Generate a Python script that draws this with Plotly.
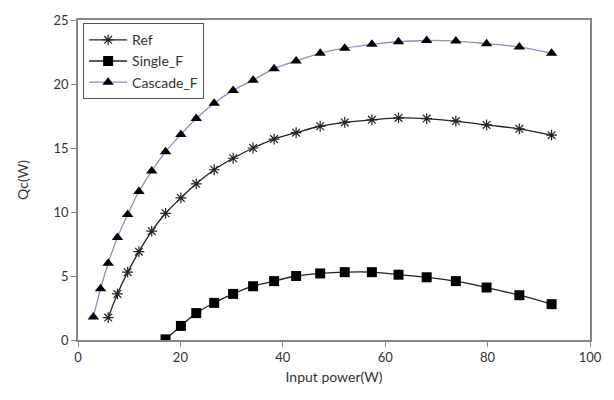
import plotly.graph_objects as go

input_power = [3.0, 4.4, 5.9, 7.7, 9.7, 11.9, 14.4, 17.1, 20.1, 23.1, 26.6, 30.3,
               34.2, 38.3, 42.6, 47.3, 52.1, 57.4, 62.6, 68.1, 73.8, 79.8, 86.2, 92.5]

ref_x = input_power[2:]
ref_y = [1.75, 3.6, 5.3, 6.9, 8.5, 9.9, 11.1, 12.2, 13.3, 14.2, 15.0, 15.7,
         16.2, 16.7, 17.0, 17.2, 17.35, 17.3, 17.1, 16.8, 16.5, 16.0]

single_x = input_power[7:]
single_y = [0.05, 1.1, 2.1, 2.9, 3.6, 4.2, 4.6, 5.0, 5.2, 5.3, 5.3, 5.1,
            4.9, 4.6, 4.1, 3.5, 2.8]

cascade_x = input_power
cascade_y = [1.8, 4.0, 6.0, 8.0, 9.8, 11.6, 13.2, 14.7, 16.05, 17.3, 18.5, 19.5,
             20.3, 21.2, 21.8, 22.4, 22.8, 23.1, 23.3, 23.4, 23.35, 23.15, 22.9, 22.4]

x_ticks = [0, 20, 40, 60, 80, 100]
y_ticks = [0, 5, 10, 15, 20, 25]

FONT = "Lato"
AXIS_COLOR = "#868686"

fig = go.Figure()
fig.add_trace(go.Scatter(
    x=ref_x, y=ref_y, name="Ref", mode="lines+markers",
    line=dict(color="#222222", width=1.3, shape="spline"),
    marker=dict(symbol="asterisk-open", size=9, color="#222222",
                line=dict(color="#222222", width=1.2)),
))
fig.add_trace(go.Scatter(
    x=single_x, y=single_y, name="Single_F", mode="lines+markers",
    line=dict(color="#222222", width=1.3, shape="spline"),
    marker=dict(symbol="square", size=10, color="#000000"),
))
fig.add_trace(go.Scatter(
    x=cascade_x, y=cascade_y, name="Cascade_F", mode="lines+markers",
    line=dict(color="#9d86c4", width=1.3, shape="spline"),
    marker=dict(symbol="triangle-up", size=10, color="#000000"),
))

fig.update_layout(
    width=614, height=400,
    margin=dict(l=78, r=23, t=16, b=60),
    paper_bgcolor="white", plot_bgcolor="white",
    font=dict(family=FONT, size=13, color="#333333"),
    showlegend=True,
    legend=dict(x=0.01, y=0.99, xanchor="left", yanchor="top",
                bgcolor="white", bordercolor="#555555", borderwidth=1,
                font=dict(family=FONT, size=14, color="#333333"),
                tracegroupgap=3, itemwidth=38),
)
fig.update_xaxes(
    range=[0, 100], tickvals=x_ticks, ticktext=[str(v) for v in x_ticks],
    showgrid=False, zeroline=False, showline=True, linecolor=AXIS_COLOR,
    linewidth=1.5, mirror=True, ticks="outside", ticklen=5, tickcolor=AXIS_COLOR,
    title=dict(text="Input power(W)", font=dict(family=FONT, size=14, color="#333333"), standoff=8),
    tickfont=dict(family=FONT, size=13, color="#333333"),
)
fig.update_yaxes(
    range=[0, 25], tickvals=y_ticks, ticktext=[str(v) for v in y_ticks],
    showgrid=False, zeroline=False, showline=True, linecolor=AXIS_COLOR,
    linewidth=1.5, mirror=True, ticks="outside", ticklen=5, tickcolor=AXIS_COLOR,
    title=dict(text="Qc(W)", font=dict(family=FONT, size=14, color="#333333"), standoff=22),
    tickfont=dict(family=FONT, size=13, color="#333333"),
)

fig.write_html("out.html", config={"displayModeBar": False},
               post_script="document.body.style.margin='0';")
